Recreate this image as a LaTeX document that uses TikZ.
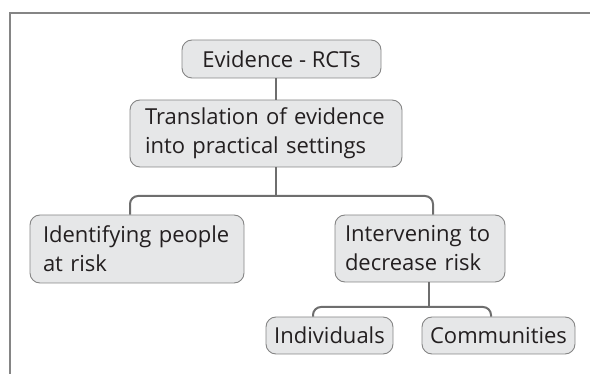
\documentclass[tikz,border=0pt]{standalone}
\usepackage{fontspec}
\setmainfont{Open Sans}
\definecolor{boxfill}{HTML}{E6E7E8}
\definecolor{boxline}{HTML}{858585}
\definecolor{conn}{HTML}{6E6E6E}
\definecolor{txt}{HTML}{231F20}
\begin{document}
\begin{tikzpicture}[x=1pt,y=-1pt,
  box/.style={draw=boxline,line width=0.9pt,fill=boxfill,rounded corners=10pt,
    text=txt,font=\fontsize{22}{29}\selectfont,inner ysep=0pt,align=left},
  link/.style={draw=conn,line width=2pt,rounded corners=8pt},
  frame/.style={draw=boxline,line width=1.2pt}]
\useasboundingbox (0,0) rectangle (590,374);
\coordinate (f1) at (590,13);
\coordinate (f2) at (10,13);
\coordinate (f3) at (10,374);
\draw[frame] (f1) -- (f2) -- (f3);
% nodes
\node[box,minimum width=199pt,minimum height=38pt,inner xsep=0pt,align=center] (ev) at (281.5,59) {Evidence - RCTs};
\node[box,minimum height=67pt,inner xsep=15pt,text width=242pt] (tr) at (266,133.5) {\mbox{Translation of evidence}\\\mbox{into practical settings}};
\node[box,minimum height=68pt,inner xsep=13pt,text width=188pt] (id) at (137,249) {\mbox{Identifying people}\\at risk};
\node[box,minimum height=67pt,inner xsep=10pt,text width=150pt] (iv) at (420,248.5) {\mbox{Intervening to}\\\mbox{decrease risk}};
\node[box,minimum width=127pt,minimum height=37pt,inner xsep=0pt,align=center] (in) at (329.5,335.5) {Individuals};
\node[box,minimum width=153pt,minimum height=37pt,inner xsep=0pt,align=center] (co) at (498.5,335.5) {Communities};
% connectors
\coordinate (s1) at (276,0);
\draw[link] (s1 |- ev.south) -- (s1 |- tr.north);
\coordinate (j1) at (276,196);
\coordinate (d1) at (130,196);
\coordinate (d2) at (433,196);
\draw[link] (s1 |- tr.south) -- (j1);
\draw[link] (d1 |- id.north) -- (d1) -- (d2) -- (d2 |- iv.north);
\coordinate (j2) at (429,307);
\coordinate (d3) at (313,307);
\coordinate (d4) at (491,307);
\draw[link] (j2 |- iv.south) -- (j2);
\draw[link] (d3 |- in.north) -- (d3) -- (d4) -- (d4 |- co.north);
\end{tikzpicture}
\end{document}
